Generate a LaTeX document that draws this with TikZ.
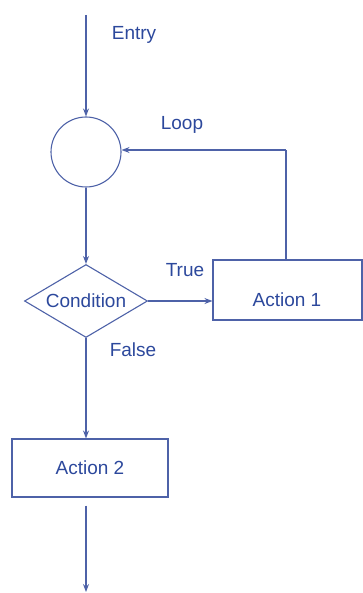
\documentclass[tikz,border=0pt]{standalone}
\usepackage{fontspec}
\setmainfont{Liberation Sans}
\usetikzlibrary{shapes.geometric,arrows.meta}
\definecolor{inkblue}{RGB}{44,72,156}
\definecolor{lineblue}{RGB}{78,98,168}
\begin{document}
\begin{tikzpicture}[x=1pt,y=-1pt,
  every node/.style={font=\fontsize{19}{22}\selectfont, text=inkblue},
  flow/.style={draw=lineblue, line width=1.1pt, -{Stealth[length=8pt,width=6pt]}},
  link/.style={draw=lineblue, line width=1.1pt},
  box/.style={draw=lineblue, line width=1.1pt, rectangle, inner sep=0pt},
  junction/.style={draw=lineblue, line width=1.1pt, circle, minimum size=70pt, inner sep=0pt},
  decision/.style={draw=lineblue, line width=1.1pt, diamond, shape aspect=1.68, inner sep=0pt,
    minimum width=123pt, minimum height=73pt},
  tag/.style={inner sep=0pt}]
  \useasboundingbox (0,0) rectangle (363,593);

  % nodes
  \coordinate (start) at (86,15);
  \node[junction] (join) at (86,152) {};
  \node[decision] (cond) at (86,301) {Condition};
  \node[box, minimum width=149pt, minimum height=60pt] (act1) at (287.5,290) {};
  \node[tag] (act1text) at (287,300) {Action 1};
  \node[box, minimum width=156pt, minimum height=58pt] (act2) at (90,468) {Action 2};
  \coordinate (corner) at (286,150);
  \coordinate (finish) at (86,592);

  % connectors
  \draw[flow] (start) -- (join.north);
  \draw[flow] (join.south) -- (cond.north);
  \draw[flow] (cond.east) -- (cond.east -| act1.west);
  \draw[link] (corner |- act1.north) -- (corner);
  \draw[flow] (corner) -- (join.east |- corner);
  \draw[flow] (cond.south) -- (cond.south |- act2.north);
  \draw[flow] ([yshift=-8pt]cond.south |- act2.south) -- (finish);

  % labels
  \node[tag] (lentry) at (134,35) {Entry};
  \node[tag] (lloop) at (182,125) {Loop};
  \node[tag] (ltrue) at (185,270) {True};
  \node[tag] (lfalse) at (133,350) {False};
\end{tikzpicture}
\end{document}
